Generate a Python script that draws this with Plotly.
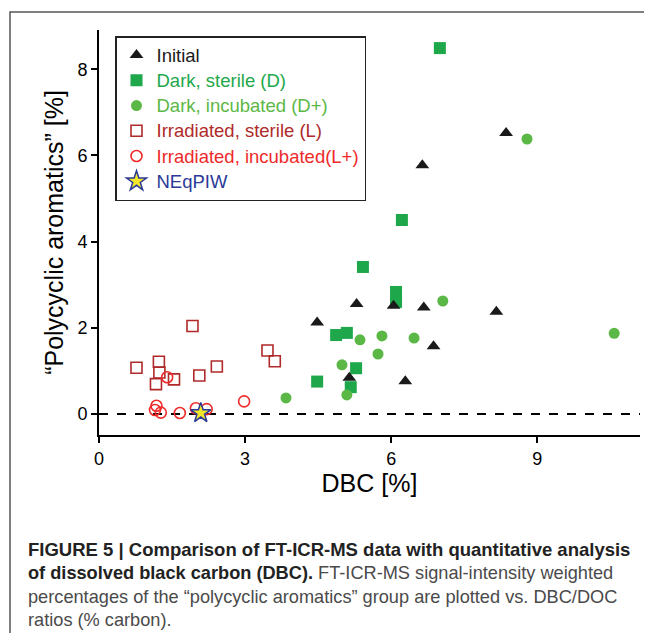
import plotly.graph_objects as go

# ---- data ----
initial_x = [8.36, 6.64, 5.29, 4.48, 6.05, 6.67, 8.16, 6.87, 5.14, 6.29]
initial_y = [6.52, 5.77, 2.55, 2.12, 2.51, 2.47, 2.37, 1.57, 0.84, 0.76]

dark_sterile_x = [7.00, 6.22, 5.42, 6.10, 6.10, 4.87, 5.09, 5.28, 4.48, 5.17]
dark_sterile_y = [8.49, 4.50, 3.41, 2.83, 2.60, 1.83, 1.88, 1.06, 0.75, 0.62]

dark_incub_x = [8.79, 7.06, 10.58, 5.36, 5.81, 6.47, 5.73, 4.99, 5.09, 3.84]
dark_incub_y = [6.38, 2.62, 1.87, 1.72, 1.81, 1.76, 1.39, 1.14, 0.44, 0.37]

irr_sterile_x = [1.92, 0.77, 1.23, 1.24, 1.54, 1.17, 2.06, 2.42, 3.46, 3.61]
irr_sterile_y = [2.04, 1.07, 1.21, 0.96, 0.80, 0.69, 0.89, 1.10, 1.47, 1.22]

irr_incub_x = [1.40, 1.18, 1.15, 1.27, 1.66, 1.99, 2.21, 2.98]
irr_incub_y = [0.85, 0.19, 0.09, 0.03, 0.02, 0.13, 0.11, 0.29]

neq_x = [2.09]
neq_y = [0.02]

x_ticks = [0, 3, 6, 9]
y_ticks = [0, 2, 4, 6, 8]

C_INIT = "#1a1a1a"
C_DS = "#1ea84b"
C_DI = "#5cb846"
C_LS = "#b02a2a"
C_LI = "#ee2a2a"
C_NEQ = "#2b3a97"

FONT = "Liberation Sans, Arial, sans-serif"

# page body has an 8px default margin -> figure is drawn 8px in from the window edge
W, H = 636, 625
ML, MR, MT, MB = 91, 4, 22, 198
PW = W - ML - MR   # 541
PH = H - MT - MB   # 405


def px_x(p):  # reference window pixel -> paper x
    return (p - 8 - ML) / PW


def px_y(p):  # reference window pixel -> paper y
    return (H - MB - (p - 8)) / PH


def lab(text, color):
    return f"<span style='color:{color};font-size:18.5px'>{text}</span>"


fig = go.Figure()

fig.add_trace(go.Scatter(
    x=dark_sterile_x, y=dark_sterile_y, mode="markers",
    name=lab("Dark, sterile (D)", C_DS), legendrank=2,
    marker=dict(symbol="square", size=12, color=C_DS, line=dict(width=0))))
fig.add_trace(go.Scatter(
    x=dark_incub_x, y=dark_incub_y, mode="markers",
    name=lab("Dark, incubated (D+)", C_DI), legendrank=3,
    marker=dict(symbol="circle", size=11, color=C_DI, line=dict(width=0))))
fig.add_trace(go.Scatter(
    x=initial_x, y=initial_y, mode="markers",
    name=lab("Initial", C_INIT), legendrank=1,
    marker=dict(symbol="triangle-up", size=12, color=C_INIT, line=dict(width=0))))
fig.add_trace(go.Scatter(
    x=irr_sterile_x, y=irr_sterile_y, mode="markers",
    name=lab("Irradiated, sterile (L)", C_LS), legendrank=4,
    marker=dict(symbol="square-open", size=11, color=C_LS, line=dict(width=1.6, color=C_LS))))
fig.add_trace(go.Scatter(
    x=irr_incub_x, y=irr_incub_y, mode="markers",
    name=lab("Irradiated, incubated(L+)", C_LI), legendrank=5,
    marker=dict(symbol="circle-open", size=11, color=C_LI, line=dict(width=1.6, color=C_LI))))
fig.add_trace(go.Scatter(
    x=neq_x, y=neq_y, mode="markers",
    name=lab("NEqPIW", C_NEQ), legendrank=6,
    marker=dict(symbol="star", size=15, color="#f4e62a", line=dict(width=1.5, color=C_NEQ))))

# dashed zero line
fig.add_shape(type="line", xref="paper", yref="y", x0=0, x1=1, y0=0, y1=0,
              line=dict(color="black", width=2, dash="dash"), layer="below")

# outer frame (partially visible)
fig.add_shape(type="rect", xref="paper", yref="paper",
              x0=px_x(10), x1=px_x(700), y0=px_y(700), y1=px_y(12),
              line=dict(color="#555555", width=1.5), fillcolor="rgba(0,0,0,0)")

fig.update_layout(
    width=W, height=H,
    margin=dict(l=ML, r=MR, t=MT, b=MB, pad=0, autoexpand=False),
    paper_bgcolor="white", plot_bgcolor="white",
    font=dict(family=FONT, size=17, color="black"),
    showlegend=True,
    legend=dict(
        x=px_x(115), y=px_y(36), xanchor="left", yanchor="top",
        bordercolor="#222222", borderwidth=1.5, bgcolor="white",
        font=dict(family=FONT, size=17.1),
        traceorder="normal", itemwidth=30,
    ),
    xaxis=dict(
        range=[0, 11.11], tickvals=x_ticks, ticktext=[str(v) for v in x_ticks],
        showline=True, linecolor="black", linewidth=2,
        ticks="outside", ticklen=6, tickwidth=2, tickcolor="black",
        showgrid=False, zeroline=False, automargin=False,
        tickfont=dict(size=18),
        title=dict(text="DBC [%]", font=dict(size=25), standoff=7),
    ),
    yaxis=dict(
        range=[-0.49, 8.91], tickvals=y_ticks, ticktext=[str(v) for v in y_ticks],
        showline=True, linecolor="black", linewidth=2,
        ticks="outside", ticklen=6, tickwidth=2, tickcolor="black",
        showgrid=False, zeroline=False, automargin=False,
        tickfont=dict(size=18),
        title=dict(text="\u201cPolycyclic aromatics\u201d [%]", font=dict(size=25), standoff=7),
    ),
)

G = "#4a4a4a"
caption_lines = [
    "<b><span style='font-size:18.5px'>FIGURE 5 | Comparison of FT-ICR-MS data with quantitative analysis</span></b>",
    f"<b>of dissolved black carbon (DBC).</b> <span style='color:{G}'>FT-ICR-MS signal-intensity weighted</span>",
    f"<span style='color:{G}'>percentages of the \u201cpolycyclic aromatics\u201d group are plotted vs. DBC/DOC</span>",
    f"<span style='color:{G}'>ratios (% carbon).</span>",
]
caption_y_px = [549, 573, 597, 620]
for txt, ypx in zip(caption_lines, caption_y_px):
    fig.add_annotation(
        text=txt, xref="paper", yref="paper",
        x=px_x(26), y=px_y(ypx),
        xanchor="left", yanchor="middle", showarrow=False,
        font=dict(family=FONT, size=18.2, color="#222222"), align="left",
    )

fig.write_html("out.html")
